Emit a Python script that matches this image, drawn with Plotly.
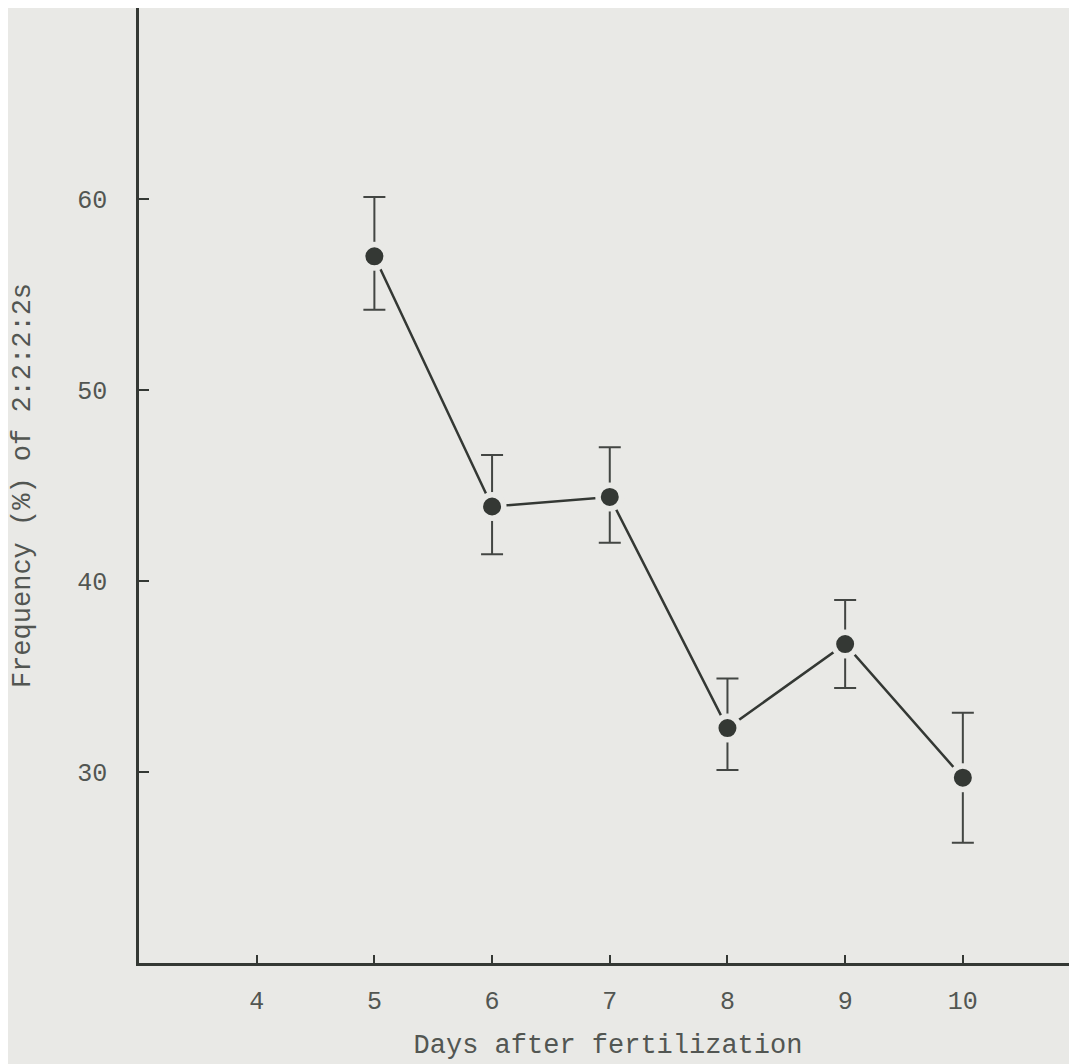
import plotly.graph_objects as go

days = [5, 6, 7, 8, 9, 10]
freq = [57.0, 43.9, 44.4, 32.3, 36.7, 29.7]
upper = [60.1, 46.6, 47.0, 34.9, 39.0, 33.1]
lower = [54.2, 41.4, 42.0, 30.1, 34.4, 26.3]
x_ticks = [4, 5, 6, 7, 8, 9, 10]
y_ticks = [30, 40, 50, 60]

err_plus = [u - f for u, f in zip(upper, freq)]
err_minus = [f - l for f, l in zip(freq, lower)]

ink = "#343834"
text_col = "#525652"
bg = "#e9e9e6"
font_family = "Courier New, Liberation Mono, monospace"

fig = go.Figure()
fig.add_trace(go.Scatter(
    x=days, y=freq, mode="lines+markers",
    line=dict(color=ink, width=2.5),
    marker=dict(size=23.5, color=ink, line=dict(color=bg, width=5.5)),
    error_y=dict(type="data", symmetric=False, array=err_plus, arrayminus=err_minus,
                 color="#434643", thickness=2, width=11),
    showlegend=False,
))

fig.update_layout(
    width=1069, height=1056, autosize=False,
    margin=dict(l=131, r=0, t=0, b=101),
    paper_bgcolor=bg, plot_bgcolor=bg,
    font=dict(family=font_family, color=text_col, size=25),
)
fig.update_xaxes(
    range=[3, 10.97], tickvals=x_ticks, ticktext=[str(v) for v in x_ticks],
    showgrid=False, zeroline=False, showline=True, linecolor=ink, linewidth=2.5,
    ticks="inside", ticklen=8, tickwidth=2, tickcolor=ink,
    ticklabelstandoff=13,
    tickfont=dict(size=25, family=font_family, color=text_col),
    title=dict(text="Days after fertilization", standoff=19,
               font=dict(size=27, family=font_family, color=text_col)),
)
fig.update_yaxes(
    range=[20, 70], tickvals=y_ticks, ticktext=[str(v) for v in y_ticks],
    showgrid=False, zeroline=False, showline=True, linecolor=ink, linewidth=2.5,
    ticks="inside", ticklen=10, tickwidth=2, tickcolor=ink,
    ticklabelstandoff=24,
    tickfont=dict(size=25, family=font_family, color=text_col),
    title=dict(text="Frequency (%) of 2:2:2:2s", standoff=39,
               font=dict(size=27, family=font_family, color=text_col)),
)

fig.write_html("out.html")
